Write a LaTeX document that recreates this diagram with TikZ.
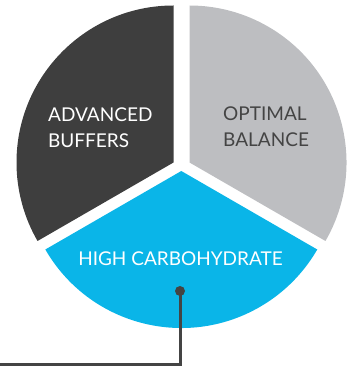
\documentclass[tikz,border=0pt]{standalone}
\usepackage{fontspec}
\setmainfont{Lato}
\definecolor{darkslice}{HTML}{3E3E3E}
\definecolor{grayslice}{HTML}{BDBEC1}
\definecolor{blueslice}{HTML}{0AB5E8}
\definecolor{linecol}{HTML}{444444}
\definecolor{graytext}{HTML}{444444}
\begin{document}
\begin{tikzpicture}[x=1pt,y=1pt,
  lbl/.style={inner sep=0pt,font=\fontsize{19}{23}\selectfont},
  dotnode/.style={circle,fill=linecol,inner sep=0pt,minimum size=10pt},
  conn/.style={draw=linecol,line width=3pt}]
\useasboundingbox (0,0) rectangle (353,367);
\def\R{157}
% slices
\fill[darkslice] (173.5,204.5) -- ++(90:\R) arc[start angle=90,end angle=210,radius=\R] -- cycle;
\fill[grayslice] (189.5,204.5) -- ++(-30:\R) arc[start angle=-30,end angle=90,radius=\R] -- cycle;
\fill[blueslice] (181.3,196) -- ++(210:\R) arc[start angle=210,end angle=330,radius=\R] -- cycle;
% labels
\node[lbl,text=white,anchor=base west] (adv1) at (48,245) {ADVANCED};
\node[lbl,text=white,anchor=base west] (adv2) at (48,219) {BUFFERS};
\node[lbl,text=graytext,anchor=base west] (opt1) at (223,246) {OPTIMAL};
\node[lbl,text=graytext,anchor=base west] (opt2) at (223,220) {BALANCE};
\node[lbl,text=white,anchor=base] (high) at (180.5,101) {HIGH CARBOHYDRATE};
% connector
\node[dotnode] (dot) at (180,76) {};
\coordinate (lend) at (0,2.3);
\draw[conn] (dot.center) |- (lend);
\end{tikzpicture}
\end{document}
